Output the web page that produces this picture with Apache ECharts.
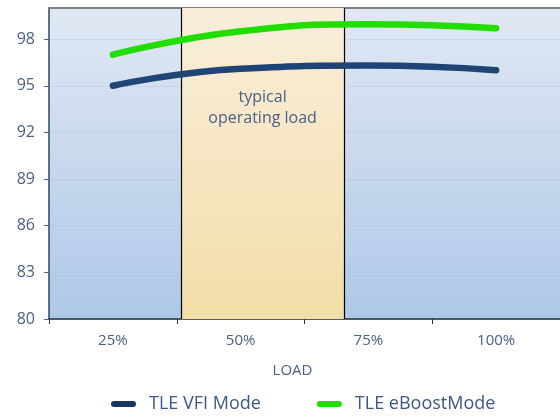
<!DOCTYPE html>
<html>
<head>
<meta charset="utf-8">
<script src="https://cdn.jsdelivr.net/npm/echarts@6/dist/echarts.min.js"></script>
<style>html,body{margin:0;padding:0;background:#fff}#c{width:560px;height:417px}</style>
</head>
<body>
<div id="c"></div>
<script>
var categories = ['25%', '50%', '75%', '100%'];
var vfiMode = [95.0, 96.1, 96.3, 96.0];
var eBoostMode = [97.0, 98.5, 98.95, 98.7];
var seriesNames = ['TLE VFI Mode', 'TLE eBoostMode'];
var operatingLoad = [38.3, 70.3];   // load % range of the "typical operating load" band
var loadRange = [12.5, 112.5];      // load % at the left/right edge of the plot
var yTicks = [80, 83, 86, 89, 92, 95, 98];

var textColor = '#4a6188';
var fontFamily = '"Open Sans", "Noto Sans", sans-serif';

var chart = echarts.init(document.getElementById('c'), null, {renderer: 'canvas'});
chart.setOption({
  animation: false,
  textStyle: {fontFamily: fontFamily},
  grid: {
    left: 49, right: -1, top: 8, bottom: 98,
    show: true, borderWidth: 0,
    backgroundColor: {
      type: 'linear', x: 0, y: 0, x2: 0, y2: 1,
      colorStops: [{offset: 0, color: '#e1e8f3'}, {offset: 1, color: '#aec8e8'}]
    }
  },
  legend: {
    bottom: -1, left: 106,
    itemGap: 56, itemWidth: 25, itemHeight: 6,
    icon: 'path://M3,0 H22 A3,3 0 0 1 22,6 H3 A3,3 0 0 1 3,0 Z',
    textStyle: {color: '#3b578a', fontSize: 18, fontFamily: fontFamily, padding: [0, 0, 0, 8]},
    data: seriesNames
  },
  xAxis: [{
    type: 'category',
    data: categories,
    boundaryGap: true,
    name: 'LOAD',
    nameLocation: 'middle',
    nameGap: 44,
    nameTextStyle: {color: textColor, fontSize: 15, padding: [0, 24, 0, 0]},
    axisLine: {lineStyle: {color: '#2a2f38', width: 1.5}},
    axisTick: {show: true, inside: false, length: 5, lineStyle: {color: '#2a2f38'}},
    axisLabel: {color: textColor, fontSize: 15, margin: 14},
    splitLine: {show: false}
  }, {
    type: 'value',
    position: 'top',
    min: loadRange[0], max: loadRange[1],
    axisLine: {show: true, onZero: false, lineStyle: {color: '#808080', width: 2}},
    axisTick: {show: false},
    axisLabel: {show: false},
    splitLine: {show: false}
  }],
  yAxis: {
    type: 'value',
    min: 80, max: 100, interval: 1,
    axisLine: {show: true, lineStyle: {color: '#2e4466', width: 1.5}},
    axisTick: {
      show: true, length: 5, lineStyle: {color: '#4a6188'},
      customValues: yTicks
    },
    axisLabel: {
      color: textColor, fontSize: 16, margin: 14,
      customValues: yTicks
    },
    splitLine: {show: true, lineStyle: {color: 'rgba(170,188,220,0.3)', width: 1}},
    showMinLabel: true
  },
  series: [{
    type: 'line',
    xAxisIndex: 1,
    data: [],
    silent: true,
    markArea: {
      silent: true,
      itemStyle: {
        color: {
          type: 'linear', x: 0, y: 0, x2: 0, y2: 1,
          colorStops: [{offset: 0, color: '#f9eedb'}, {offset: 1, color: '#f3dda8'}]
        }
      },
      label: {
        show: true,
        position: 'insideTop',
        distance: 79,
        formatter: 'typical\noperating load',
        color: textColor,
        fontSize: 16,
        lineHeight: 21,
        align: 'center'
      },
      data: [[{xAxis: operatingLoad[0]}, {xAxis: operatingLoad[1]}]]
    },
    markLine: {
      silent: true,
      symbol: 'none',
      label: {show: false},
      lineStyle: {color: '#000', width: 1.2, type: 'solid'},
      data: [{xAxis: operatingLoad[0]}, {xAxis: operatingLoad[1]}]
    }
  }, {
    name: seriesNames[0],
    type: 'line',
    data: vfiMode,
    smooth: 0.5,
    showSymbol: false,
    symbol: 'none',
    lineStyle: {color: '#1f4476', width: 6.5, cap: 'round'},
    itemStyle: {color: '#1b3563'},
    z: 5
  }, {
    name: seriesNames[1],
    type: 'line',
    data: eBoostMode,
    smooth: 0.5,
    showSymbol: false,
    symbol: 'none',
    lineStyle: {color: '#22dd00', width: 6.5, cap: 'round'},
    itemStyle: {color: '#22dd00'},
    z: 5
  }]
});
</script>
</body>
</html>
